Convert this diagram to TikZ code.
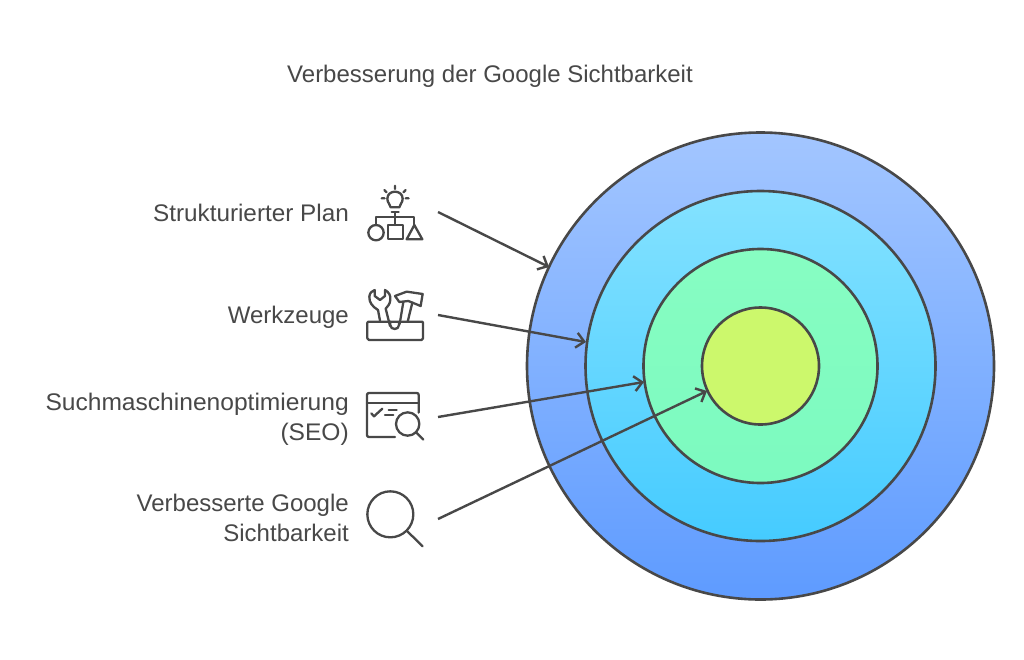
\documentclass[tikz,border=0pt]{standalone}
\usepackage{fontspec}
\setmainfont{Liberation Sans}
\usetikzlibrary{arrows.meta}
\definecolor{ink}{HTML}{484848}
\definecolor{ca}{HTML}{A3C6FF}
\definecolor{cb}{HTML}{5E9BFF}
\definecolor{cc}{HTML}{84E2FF}
\definecolor{cd}{HTML}{45CBFF}
\definecolor{ce}{HTML}{87FDC2}
\definecolor{cf}{HTML}{7CFAC0}
\definecolor{cg}{HTML}{CCF86C}
\tikzset{
  ring/.style={circle,draw=ink,line width=2.6pt,inner sep=0pt,minimum size=#1},
  lbl/.style={anchor=base east,align=right,text=ink,font=\fontsize{24}{30}\selectfont,inner sep=0pt},
  ttl/.style={anchor=base,text=ink,font=\fontsize{24}{30}\selectfont,inner sep=0pt},
  conn/.style={draw=ink,line width=2.4pt,-{Straight Barb[length=8pt,width=15pt,line width=2.4pt]}},
  icon/.style={draw=ink,line width=2.3pt,line cap=round,line join=round,fill=none},
  iconbox/.style={shift={(#1)},x=0.3333pt,y=-0.3333pt}
}
\begin{document}
\begin{tikzpicture}[x=1pt,y=-1pt]
\useasboundingbox (0,0) rectangle (1024,659);
\fill[white] (0,0) rectangle (1024,659);
\node[ttl] (title) at (490,82) {Verbesserung der Google Sichtbarkeit};

\node[ring=467pt,top color=ca,bottom color=cb] (r1) at (760.5,366) {};
\node[ring=350pt,top color=cc,bottom color=cd] (r2) at (760.5,366) {};
\node[ring=234pt,top color=ce,bottom color=cf] (r3) at (760.5,366) {};
\node[ring=117pt,fill=cg] (r4) at (760.5,366) {};

\node[lbl,xscale=1.012] (l1) at (349,221) {Strukturierter Plan};
\node[lbl] (l2) at (349,323) {Werkzeuge};
\node[lbl,xscale=1.024] (l3) at (349,440) {Suchmaschinenoptimierung\\(SEO)};
\node[lbl] (l4) at (349,541) {Verbesserte Google\\Sichtbarkeit};

\coordinate (s1) at (438,212); \coordinate (e1) at (549,267);
\coordinate (s2) at (438,315); \coordinate (e2) at (586,342);
\coordinate (s3) at (438,417); \coordinate (e3) at (644,382);
\coordinate (s4) at (438,519); \coordinate (e4) at (707,391);
\draw[conn] (s1) -- (e1);
\draw[conn] (s2) -- (e2);
\draw[conn] (s3) -- (e3);
\draw[conn] (s4) -- (e4);

% plan icon
\begin{scope}[iconbox={350,170}]
\draw[icon] (135,47)--(135,57) (103,60)--(110,67) (167,60)--(160,67) (95,85)--(104,85) (167,85)--(176,85);
\draw[icon] (122,112) .. controls (122,103) and (112,100) .. (112,86) .. controls (112,72) and (124,65) .. (135,65) .. controls (146,65) and (158,72) .. (158,86) .. controls (158,100) and (148,103) .. (148,112) -- cycle;
\draw[icon] (125,127)--(146,127) (135,127)--(135,165);
\draw[icon] (78,165)--(78,142)--(193,142)--(193,165);
\draw[icon] (78,188) circle (23);
\draw[icon] (113,165) rectangle (158,208);
\draw[icon] (193,165)--(170,208)--(217,208)--cycle;
\end{scope}
% tools icon
\begin{scope}[iconbox={350,170}]
\draw[icon] (58,455)--(217,455) .. controls (219,455) and (219,457) .. (219,459) -- (219,505) .. controls (219,509) and (217,510) .. (215,510) -- (57,510) .. controls (53,510) and (52,508) .. (52,505) -- (52,459) .. controls (52,456) and (54,455) .. (58,455);
\draw[icon] (121,455) -- (121,465) .. controls (121,481) and (147,481) .. (147,465) -- (147,455);
\draw[icon] (90,452)--(84,420) .. controls (68,410) and (57,398) .. (58,380) .. controls (59,370) and (65,362) .. (74,360) -- (74,378) -- (90,390) -- (105,378) -- (105,360) .. controls (117,366) and (123,378) .. (121,390) .. controls (120,402) and (113,410) .. (107,416) -- (120,468);
\draw[icon] (135,378)--(170,365)--(218,372)--(212,408)--(175,393)--(148,396)--cycle;
\draw[icon] (160,396)--(149,462) (187,398)--(173,455);
\end{scope}
% seo icon
\begin{scope}[iconbox={350,380}]
\draw[icon] (135,171)--(57,171) .. controls (53,171) and (51,169) .. (51,165) -- (51,45) .. controls (51,41) and (53,39) .. (57,39) -- (200,39) .. controls (204,39) and (206,41) .. (206,45) -- (206,98);
\draw[icon] (51,69)--(206,69);
\draw[icon] (64,100)--(72,109)--(97,86);
\draw[icon] (116,90)--(140,90) (105,104)--(130,104);
\draw[icon] (173,132) circle (35);
\draw[icon] (198,157)--(220,179);
\end{scope}
% search icon
\begin{scope}[iconbox={350,380}]
\draw[icon] (121,403) circle (69);
\draw[icon] (170,452)--(218,499);
\end{scope}
\end{tikzpicture}
\end{document}
